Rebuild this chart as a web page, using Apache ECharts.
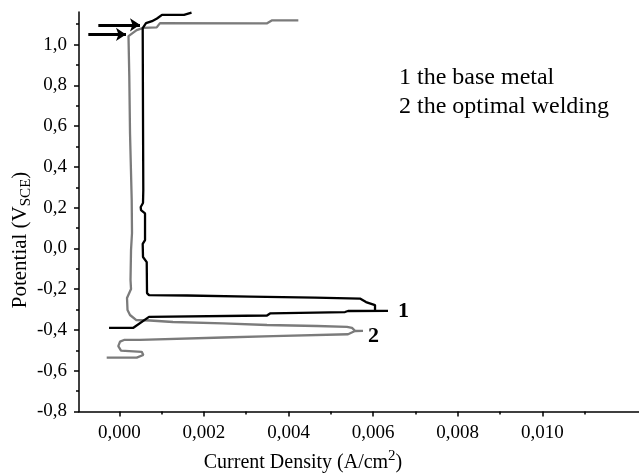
<!DOCTYPE html>
<html><head><meta charset="utf-8">
<script src="https://cdn.jsdelivr.net/npm/echarts@6/dist/echarts.min.js"></script>
<style>html,body{margin:0;padding:0;background:#fff}#c{width:639px;height:476px}</style>
</head><body><div id="c"></div>
<script>
// ---- data ----
const xMin = -0.000953, xMax = 0.012286;
const yMin = -0.8, yMax = 1.16;
const xMajorTicks = [0, 0.002, 0.004, 0.006, 0.008, 0.010];
const xMinorTicks = [0.001, 0.003, 0.005, 0.007, 0.009, 0.011];
const yMajorTicks = [-0.8, -0.6, -0.4, -0.2, 0, 0.2, 0.4, 0.6, 0.8, 1.0];
const yMinorTicks = [-0.7, -0.5, -0.3, -0.1, 0.1, 0.3, 0.5, 0.7, 0.9, 1.1];

// curve 1: the base metal
const baseMetal = [
  [-0.000243,-0.390],[0.000324,-0.390],[0.000702,-0.336],[0.003492,-0.329],[0.003563,-0.319],
  [0.005336,-0.312],[0.005407,-0.307],[0.006352,-0.306],[0.006045,-0.306],[0.006045,-0.278],
  [0.005832,-0.263],[0.005690,-0.246],[0.004626,-0.241],[0.003090,-0.236],[0.001600,-0.231],
  [0.000702,-0.229],[0.000655,-0.219],[0.000648,-0.067],[0.000560,-0.042],[0.000553,0.022],
  [0.000608,0.041],[0.000608,0.172],[0.000513,0.188],[0.000506,0.203],[0.000560,0.223],
  [0.000567,0.287],[0.000560,0.654],[0.000553,1.081],[0.000631,1.105],[0.000773,1.115],
  [0.000891,1.128],[0.001009,1.146],[0.001530,1.146],[0.001707,1.157]
];
// curve 2: the optimal welding
const optimalWelding = [
  [-0.000298,-0.536],[0.000411,-0.536],[0.000567,-0.523],[0.000530,-0.507],[0.000040,-0.501],
  [-0.000024,-0.479],[0.000017,-0.457],[0.000111,-0.449],[0.000489,-0.449],[0.002452,-0.437],
  [0.003634,-0.430],[0.005407,-0.421],[0.005572,-0.405],[0.005761,-0.404],[0.005572,-0.404],
  [0.005501,-0.390],[0.005383,-0.3845],[0.004674,-0.3806],[0.003492,-0.3757],[0.002452,-0.3673],
  [0.001270,-0.361],[0.000726,-0.3536],[0.000395,-0.351],[0.000253,-0.3266],[0.000194,-0.302],
  [0.000182,-0.243],[0.000277,-0.199],[0.000265,-0.155],[0.000277,-0.008],[0.000300,0.0755],
  [0.000293,0.2374],[0.000253,0.566],[0.000236,0.8455],[0.000217,1.0417],[0.000411,1.0711],
  [0.000567,1.0824],[0.000884,1.0844],[0.000962,1.1054],[0.003485,1.104],[0.003603,1.1187],
  [0.004232,1.1187]
];
// arrows
const arrow1 = [[-0.000496, 1.097], [0.000489, 1.097]];
const arrow2 = [[-0.000733, 1.050], [0.000158, 1.050]];

const legendLines = ['1 the base metal', '2 the optimal welding'];
const curveTags = ['1', '2'];

// ---- chart ----
const FONT = 'Liberation Serif';
const chart = echarts.init(document.getElementById('c'), null, {renderer: 'canvas'});
const fmtX = v => v.toFixed(3).replace('.', ',');
const fmtY = v => v.toFixed(1).replace('.', ',');
const axisCommon = {type: 'value', splitLine: {show: false}};

chart.setOption({
  backgroundColor: '#fff',
  animation: false,
  grid: {left: 79, right: 0, top: 12, bottom: 64.5, containLabel: false},
  xAxis: [
    Object.assign({}, axisCommon, {
      min: xMin, max: xMax, position: 'bottom',
      axisLine: {show: true, onZero: false, lineStyle: {color: '#000', width: 1.5}},
      axisTick: {show: true, customValues: xMajorTicks, length: 5, lineStyle: {color: '#000', width: 1.5}},
      axisLabel: {customValues: xMajorTicks, formatter: fmtX, margin: 12, color: '#000', fontFamily: FONT, fontSize: 19}
    }),
    Object.assign({}, axisCommon, {
      min: xMin, max: xMax, position: 'bottom',
      axisLine: {show: false, onZero: false},
      axisTick: {show: true, customValues: xMinorTicks, length: 3, lineStyle: {color: '#000', width: 1.5}},
      axisLabel: {show: false}
    })
  ],
  yAxis: [
    Object.assign({}, axisCommon, {
      min: yMin, max: yMax, position: 'left',
      axisLine: {show: true, onZero: false, lineStyle: {color: '#000', width: 1.5}},
      axisTick: {show: true, customValues: yMajorTicks, length: 5, lineStyle: {color: '#000', width: 1.5}},
      axisLabel: {customValues: yMajorTicks, formatter: fmtY, margin: 12, color: '#000', fontFamily: FONT, fontSize: 19}
    }),
    Object.assign({}, axisCommon, {
      min: yMin, max: yMax, position: 'left',
      axisLine: {show: false, onZero: false},
      axisTick: {show: true, customValues: yMinorTicks, length: 3, lineStyle: {color: '#000', width: 1.5}},
      axisLabel: {show: false}
    })
  ],
  series: [
    {type: 'line', name: 'optimal welding', data: optimalWelding, showSymbol: false, symbol: 'none',
     lineStyle: {color: '#7b7b7b', width: 2.3}, z: 2},
    {type: 'line', name: 'base metal', data: baseMetal, showSymbol: false, symbol: 'none',
     lineStyle: {color: '#000', width: 2.3}, z: 3},
    {type: 'lines', coordinateSystem: 'cartesian2d', symbol: ['none', 'arrow'], symbolSize: [7, 10],
     lineStyle: {color: '#000', width: 3, opacity: 1}, z: 4,
     data: [{coords: arrow1}, {coords: arrow2}]}
  ],
  graphic: [
    {type: 'text', left: 399, top: 66, style: {text: legendLines[0], font: '24px "Liberation Serif"', fill: '#000'}},
    {type: 'text', left: 399, top: 95, style: {text: legendLines[1], font: '24px "Liberation Serif"', fill: '#000'}},
    {type: 'text', x: 398, y: 311, style: {text: curveTags[0], font: 'bold 22px "Liberation Serif"', fill: '#000', verticalAlign: 'middle'}},
    {type: 'text', x: 368, y: 336, style: {text: curveTags[1], font: 'bold 22px "Liberation Serif"', fill: '#000', verticalAlign: 'middle'}},
    {type: 'text', x: 303, y: 463, style: {text: '{m|Current Density (A/cm}{sup|2}{m|)}', fill: '#000',
      align: 'center', verticalAlign: 'middle',
      rich: {m: {fontSize: 20, fontFamily: FONT, lineHeight: 28, verticalAlign: 'middle'},
             sup: {fontSize: 15, fontFamily: FONT, lineHeight: 15, verticalAlign: 'top'}}}},
    {type: 'text', x: 20, y: 240, rotation: Math.PI / 2, style: {text: '{m|Potential (V}{sub|SCE}{m|)}', fill: '#000',
      align: 'center', verticalAlign: 'middle',
      rich: {m: {fontSize: 21, fontFamily: FONT, lineHeight: 28, verticalAlign: 'middle'},
             sub: {fontSize: 15, fontFamily: FONT, lineHeight: 17, verticalAlign: 'bottom'}}}}
  ]
});
</script></body></html>
